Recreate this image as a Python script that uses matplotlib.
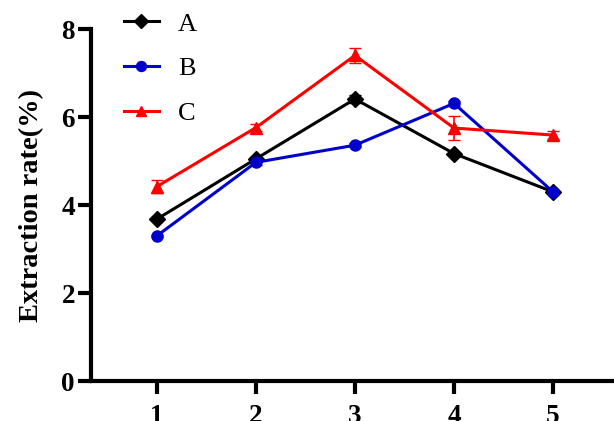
import matplotlib.pyplot as plt

plt.rcParams['font.family'] = ['Liberation Serif', 'DejaVu Serif']

x = [1, 2, 3, 4, 5]
a_vals = [3.68, 5.05, 6.41, 5.17, 4.30]
b_vals = [3.30, 4.97, 5.36, 6.31, 4.30]
c_vals = [4.42, 5.76, 7.40, 5.75, 5.59]
a_err = [0.03, 0.05, 0.08, 0.04, 0.05]
b_err = [0.03, 0.05, 0.05, 0.05, 0.03]
c_err = [0.15, 0.08, 0.17, 0.27, 0.09]

fig = plt.figure(figsize=(6.14, 4.21), dpi=100)
ax = fig.add_axes([0.148, 0.095, 0.852, 0.836])

ax.errorbar(x, a_vals, yerr=a_err, color='black', marker='D', markersize=8,
            linewidth=2.2, capsize=4, elinewidth=1.2, label='A')
ax.errorbar(x, b_vals, yerr=b_err, color='#0000CC', marker='o', markersize=8,
            linewidth=2.2, capsize=4, elinewidth=1.2, label='B')
ax.errorbar(x, c_vals, yerr=c_err, color='#FF0000', marker='^', markersize=8.5,
            linewidth=2.2, capsize=4, elinewidth=1.2, label='C')

ax.set_xlim(0.333, 5.616)
ax.set_ylim(0, 8)
ax.set_yticks([0, 2, 4, 6, 8])
ax.set_xticks(x)

for side in ['top', 'right']:
    ax.spines[side].set_visible(False)
for side in ['left', 'bottom']:
    ax.spines[side].set_linewidth(3)

ax.tick_params(axis='both', width=3, length=9.5, direction='out', labelsize=19.5)
ax.tick_params(axis='y', pad=2)
ax.tick_params(axis='x', pad=7)
for lbl in ax.get_xticklabels() + ax.get_yticklabels():
    lbl.set_fontweight('bold')

ax.set_ylabel('Extraction rate(%)', fontsize=20.5, fontweight='bold', labelpad=12)

handles, labels = ax.get_legend_handles_labels()
handles = [h[0] for h in handles]
ax.legend(handles, labels, loc='upper left', bbox_to_anchor=(0.063, 1.048),
          frameon=False, fontsize=19, handlelength=1.33, labelspacing=0.8,
          handletextpad=0.72, borderpad=0, borderaxespad=0, markerscale=0.9)

fig.savefig('out.png', dpi=100)
